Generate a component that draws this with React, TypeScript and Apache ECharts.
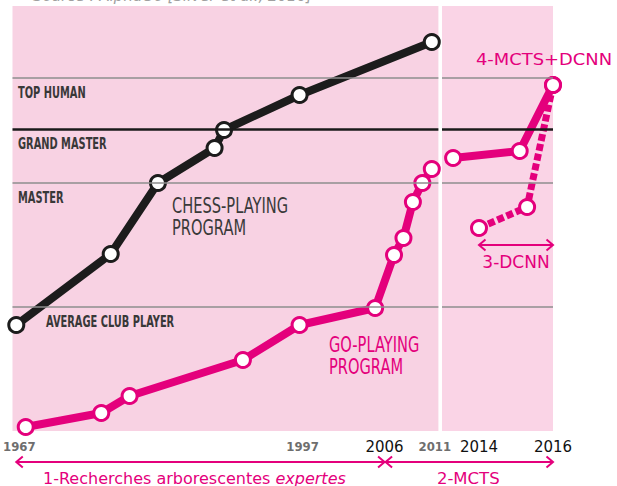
import React, { useEffect, useRef } from 'react';
import * as echarts from 'echarts';

// Skill levels (y scale: arbitrary playing-strength units)
const levelNames = ['AVERAGE CLUB PLAYER', 'MASTER', 'GRAND MASTER', 'TOP HUMAN'];
const levelValues = [124, 248, 302, 353];

// Chess-playing program
const chessYears = [1967, 1977, 1982, 1988, 1989, 1997, 2011];
const chessValues = [106, 177, 248, 283, 301, 336, 389];

// Go-playing program (before 2011)
const goYears = [1968, 1976, 1979, 1991, 1997, 2005, 2007, 2008, 2009, 2010, 2011];
const goValues = [4, 18, 35, 71, 106, 123, 176, 193, 229, 248, 262];

// 4-MCTS+DCNN
const mctsDcnnYears = [2013.3, 2015.1, 2016];
const mctsDcnnValues = [273, 280, 346];

// 3-DCNN
const dcnnYears = [2014, 2015.3, 2016];
const dcnnValues = [203, 224, 346];

// Tick labels
const leftTicks = [1967, 1997, 2006, 2011];
const rightTicks = [2014, 2016];
const emphasizedTicks = [2006, 2014, 2016];

// Eras
const era1Label = '1-Recherches arborescentes ';
const era1Italic = 'expertes';
const era2Label = '2-MCTS';
const era1Range = [1967, 2006];
const era2Range = [2006, 2016];
const dcnnRange = [2014, 2016];
const dcnnArrowLevel = 186;

const MAG = '#e4007c';
const INK = '#1c1c1c';
const NARROW = '"Liberation Sans Narrow", "Arial Narrow", "DejaVu Sans Condensed", "Liberation Sans", sans-serif';
const SANS = '"DejaVu Sans", "Open Sans", sans-serif';

export default function App() {
  const ref = useRef<HTMLDivElement>(null);
  useEffect(() => {
    if (!ref.current) return;
    const chart = echarts.init(ref.current, null, { renderer: 'svg' });

    const tickFormatter = (v: number) =>
      emphasizedTicks.includes(v) ? `{b|${v}}` : `{g|${v}}`;
    const tickRich = {
      g: { fontFamily: NARROW, fontWeight: 'bold', fontSize: 13, color: '#6e6e6e', padding: [1, 0, 0, 6] },
      b: { fontFamily: SANS, fontSize: 15, color: '#111' },
    };

    const levelLines = levelValues.map((v, i) => ({
      yAxis: v,
      lineStyle:
        levelNames[i] === 'GRAND MASTER'
          ? { color: '#1a1a1a', width: 2.5, type: 'solid' }
          : { color: '#8e8e8e', width: 1.5, type: 'solid' },
    }));

    const markSeries = (idx: number) => ({
      type: 'line',
      xAxisIndex: idx,
      yAxisIndex: idx,
      data: [],
      z: 1,
      silent: true,
      markLine: {
        silent: true,
        symbol: 'none',
        label: { show: false },
        animation: false,
        data: levelLines,
      },
    });

    const lineSeries = (
      idx: number,
      xs: number[],
      ys: number[],
      color: string,
      width: number,
      z: number,
      dashed?: boolean
    ) => ({
      type: 'line',
      xAxisIndex: idx,
      yAxisIndex: idx,
      data: xs.map((x, i) => [x, ys[i]]),
      clip: false,
      symbol: 'circle',
      symbolSize: 15,
      showAllSymbol: true,
      z,
      lineStyle: { color, width, type: dashed ? [7, 3] : 'solid', cap: 'butt' },
      itemStyle: { color: '#fff', borderColor: color, borderWidth: 3 },
      emphasis: { disabled: true },
    });

    chart.setOption({
      animation: false,
      grid: [
        { left: 12, top: 6, width: 426.4, height: 425, show: true, backgroundColor: '#f8d2e3', borderWidth: 0 },
        { left: 442, top: 6, width: 111, height: 425, show: true, backgroundColor: '#fad4e6', borderWidth: 0 },
      ],
      xAxis: [
        {
          type: 'value', gridIndex: 0, min: 1966.6, max: 2011.7,
          axisLine: { show: false }, axisTick: { show: false }, splitLine: { show: false },
          axisLabel: { customValues: leftTicks, formatter: tickFormatter, rich: tickRich, margin: 8 },
        },
        {
          type: 'value', gridIndex: 1, min: 2013, max: 2016,
          axisLine: { show: false }, axisTick: { show: false }, splitLine: { show: false },
          axisLabel: { customValues: rightTicks, formatter: tickFormatter, rich: tickRich, margin: 8 },
        },
      ],
      yAxis: [
        { type: 'value', gridIndex: 0, min: 0, max: 425, show: false },
        { type: 'value', gridIndex: 1, min: 0, max: 425, show: false },
      ],
      series: [
        markSeries(0),
        markSeries(1),
        lineSeries(0, chessYears, chessValues, INK, 8, 3),
        lineSeries(0, goYears, goValues, MAG, 8, 3),
        lineSeries(1, dcnnYears, dcnnValues, MAG, 7, 2, true),
        lineSeries(1, mctsDcnnYears, mctsDcnnValues, MAG, 8, 3),
      ],
    });

    const p = (g: number, x: number, y: number) =>
      chart.convertToPixel({ gridIndex: g }, [x, y]) as number[];

    const chevron = (x: number, y: number, dir: number) => ({
      type: 'polyline',
      shape: { points: [[x + dir * 6.5, y - 5.5], [x, y], [x + dir * 6.5, y + 5.5]] },
      style: { stroke: MAG, lineWidth: 2, fill: 'none' },
    });
    const shaft = (x1: number, x2: number, y: number) => ({
      type: 'line',
      shape: { x1, y1: y, x2, y2: y },
      style: { stroke: MAG, lineWidth: 2 },
    });

    const graphic: any[] = [];

    // Source line at the top (cut by the page edge as in the original)
    graphic.push({
      type: 'text', x: 33, y: 3,
      style: {
        text: 'Source : AlphaGo [Silver et al., 2016]',
        fill: '#a0a0a0', fontSize: 15, fontStyle: 'italic', fontFamily: SANS,
        align: 'left', verticalAlign: 'bottom',
      },
    });

    // Level labels
    levelNames.forEach((name, i) => {
      const y = p(0, 1967, levelValues[i])[1] + 15;
      const x = name === 'AVERAGE CLUB PLAYER' ? 46 : 18;
      graphic.push({
        type: 'text', x, y, scaleX: 0.73,
        style: {
          text: name, fill: '#383838', fontSize: 15, fontWeight: 'bold', fontFamily: NARROW,
          align: 'left', verticalAlign: 'middle',
        },
      });
    });

    // Program labels
    graphic.push({
      type: 'text', x: 172, y: 217, scaleX: 0.74,
      style: {
        text: 'CHESS-PLAYING\nPROGRAM', fill: '#3a3a3a', fontSize: 22, lineHeight: 22,
        fontFamily: NARROW, align: 'left', verticalAlign: 'middle',
      },
    });
    graphic.push({
      type: 'text', x: 329, y: 356, scaleX: 0.74,
      style: {
        text: 'GO-PLAYING\nPROGRAM', fill: MAG, fontSize: 22, lineHeight: 22,
        fontFamily: NARROW, align: 'left', verticalAlign: 'middle',
      },
    });

    // 4-MCTS+DCNN label
    const last = p(1, mctsDcnnYears[mctsDcnnYears.length - 1], mctsDcnnValues[mctsDcnnValues.length - 1]);
    graphic.push({
      type: 'text', x: last[0] - 9, y: last[1] - 26, scaleX: 1.12,
      style: {
        text: '4-MCTS+DCNN', fill: MAG, fontSize: 16, fontFamily: SANS,
        align: 'center', verticalAlign: 'middle',
      },
    });

    // 3-DCNN arrow
    const d1 = p(1, dcnnRange[0], dcnnArrowLevel);
    const d2 = p(1, dcnnRange[1], dcnnArrowLevel);
    graphic.push(shaft(d1[0], d2[0], d1[1]), chevron(d1[0], d1[1], 1), chevron(d2[0], d1[1], -1));
    graphic.push({
      type: 'text', x: (d1[0] + d2[0]) / 2, y: d1[1] + 17,
      style: { text: '3-DCNN', fill: MAG, fontSize: 17, fontFamily: SANS, align: 'center', verticalAlign: 'middle' },
    });

    // Era arrows
    const ay = 462;
    const e1a = p(0, era1Range[0], 0)[0];
    const e1b = p(0, era1Range[1], 0)[0];
    const e2a = p(0, era2Range[0], 0)[0] + 1;
    const e2b = p(1, era2Range[1], 0)[0];
    graphic.push(shaft(e1a, e1b, ay), chevron(e1a, ay, 1), chevron(e1b, ay, -1));
    graphic.push(shaft(e2a, e2b, ay), chevron(e2a, ay, 1), chevron(e2b, ay, -1));
    graphic.push({
      type: 'text', x: (e1a + e1b) / 2 - 6, y: ay + 16,
      style: {
        text: `{n|${era1Label}}{i|${era1Italic}}`,
        align: 'center', verticalAlign: 'middle',
        rich: {
          n: { fill: MAG, color: MAG, fontSize: 16, fontFamily: SANS },
          i: { fill: MAG, color: MAG, fontSize: 16, fontFamily: SANS, fontStyle: 'italic' },
        },
      },
    });
    graphic.push({
      type: 'text', x: (e2a + e2b) / 2 - 1, y: ay + 16,
      style: { text: era2Label, fill: MAG, fontSize: 16.5, fontFamily: SANS, align: 'center', verticalAlign: 'middle' },
    });

    chart.setOption({ graphic });

    return () => chart.dispose();
  }, []);

  return (
    <div
      ref={ref}
      style={{ position: 'absolute', left: 0, top: 0, width: 617, height: 486, background: '#fff' }}
    />
  );
}
